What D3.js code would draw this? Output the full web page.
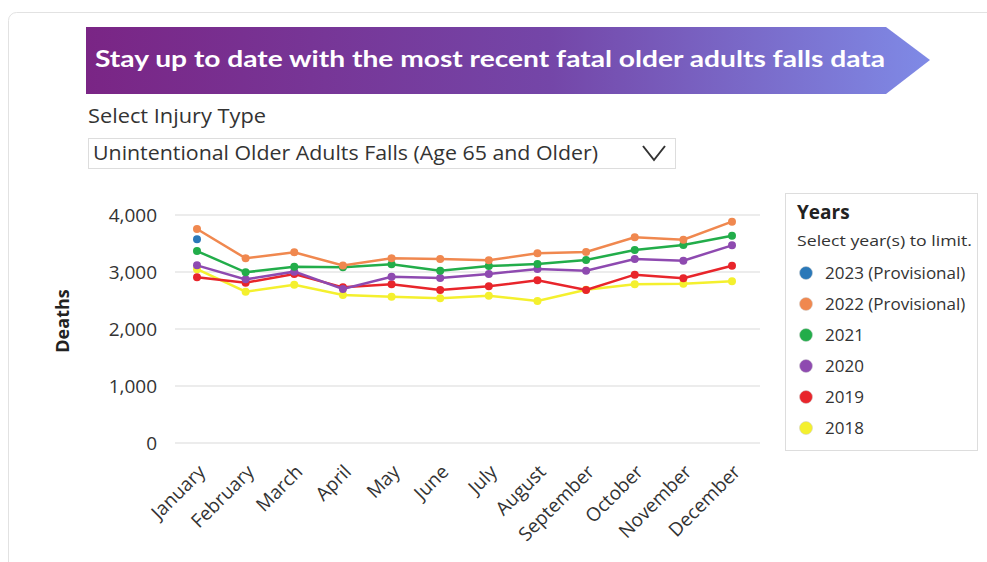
<!DOCTYPE html>
<html>
<head>
<meta charset="utf-8">
<script src="https://cdn.jsdelivr.net/npm/d3@7"></script>
<style>
  body { margin: 0; background: #fff; }
  svg { display: block; }
</style>
</head>
<body>
<div id="chart"></div>
<script>
const months = ["January", "February", "March", "April", "May", "June", "July",
  "August", "September", "October", "November", "December"];
const yTicks = [0, 1000, 2000, 3000, 4000];

const years = ["2023 (Provisional)", "2022 (Provisional)", "2021", "2020", "2019", "2018"];
const yearColors = ["#2a78b8", "#f0884f", "#22ad4a", "#8e4ab0", "#e8252b", "#f4f02e"];

const deaths2023 = [3575];
const deaths2022 = [3755, 3240, 3345, 3115, 3240, 3228, 3205, 3328, 3350, 3608, 3567, 3883];
const deaths2021 = [3368, 2994, 3094, 3085, 3135, 3023, 3105, 3140, 3211, 3386, 3474, 3637];
const deaths2020 = [3117, 2871, 3006, 2702, 2918, 2895, 2965, 3053, 3023, 3228, 3199, 3468];
const deaths2019 = [2907, 2813, 2965, 2731, 2784, 2684, 2749, 2854, 2684, 2953, 2889, 3111];
const deaths2018 = [3050, 2655, 2778, 2596, 2567, 2538, 2585, 2491, 2690, 2784, 2795, 2836];

const series = [deaths2023, deaths2022, deaths2021, deaths2020, deaths2019, deaths2018];

const W = 987, H = 562;
const font = "'Open Sans', sans-serif";
const svg = d3.select("#chart").append("svg").attr("width", W).attr("height", H);

// card
svg.append("rect")
  .attr("x", 8.5).attr("y", 12.5).attr("width", 1000).attr("height", 600)
  .attr("rx", 8).attr("fill", "#fff").attr("stroke", "#e2e2e2");

// banner
const defs = svg.append("defs");
const grad = defs.append("linearGradient").attr("id", "bannerGrad")
  .attr("x1", "0%").attr("y1", "0%").attr("x2", "100%").attr("y2", "0%");
grad.append("stop").attr("offset", "0%").attr("stop-color", "#7a2585");
grad.append("stop").attr("offset", "55%").attr("stop-color", "#7446a8");
grad.append("stop").attr("offset", "100%").attr("stop-color", "#7f8ae6");

svg.append("path")
  .attr("d", "M86,27 L886,27 L930,60 L886,94 L86,94 Z")
  .attr("fill", "url(#bannerGrad)");
svg.append("text")
  .attr("x", 95).attr("y", 67)
  .attr("font-family", "Lato, sans-serif").attr("font-weight", 700)
  .attr("font-size", 22).attr("fill", "#fff")
  .attr("textLength", 790).attr("lengthAdjust", "spacingAndGlyphs")
  .text("Stay up to date with the most recent fatal older adults falls data");

// selector
svg.append("text")
  .attr("x", 88).attr("y", 123)
  .attr("font-family", font).attr("font-size", 19.5).attr("fill", "#333")
  .attr("textLength", 178).attr("lengthAdjust", "spacingAndGlyphs")
  .text("Select Injury Type");
svg.append("rect")
  .attr("x", 88.5).attr("y", 138.5).attr("width", 587).attr("height", 30)
  .attr("fill", "#fff").attr("stroke", "#ddd");
svg.append("text")
  .attr("x", 93).attr("y", 160)
  .attr("font-family", font).attr("font-size", 19.5).attr("fill", "#333")
  .attr("textLength", 505).attr("lengthAdjust", "spacingAndGlyphs")
  .text("Unintentional Older Adults Falls (Age 65 and Older)");
svg.append("path")
  .attr("d", "M643,146 L654,160 L665,146")
  .attr("fill", "none").attr("stroke", "#333").attr("stroke-width", 2);

// chart
const x = d3.scalePoint().domain(months).range([197, 732]);
const y = d3.scaleLinear().domain([0, 4000]).range([443, 215]);

const grid = svg.append("g");
grid.selectAll("line").data(yTicks).join("line")
  .attr("x1", 175).attr("x2", 760)
  .attr("y1", d => y(d)).attr("y2", d => y(d))
  .attr("stroke", "#e6e6e6").attr("stroke-width", 1.5);

const yAxis = svg.append("g")
  .attr("transform", "translate(163,0)")
  .call(d3.axisLeft(y).tickValues(yTicks).tickFormat(d3.format(",")).tickSize(0).tickPadding(6));
yAxis.select(".domain").remove();
yAxis.selectAll("text")
  .attr("font-family", font).attr("font-size", 19).attr("fill", "#333");

const xAxis = svg.append("g")
  .attr("transform", "translate(0,443)")
  .call(d3.axisBottom(x).tickSize(0).tickPadding(0));
xAxis.select(".domain").remove();
xAxis.selectAll("text")
  .attr("font-family", font).attr("font-size", 19).attr("fill", "#333")
  .attr("text-anchor", "end")
  .attr("dy", 0)
  .attr("transform", "translate(9,30) rotate(-45)");

svg.append("text")
  .attr("transform", "translate(69,321) rotate(-90)")
  .attr("text-anchor", "middle")
  .attr("font-family", font).attr("font-weight", 700)
  .attr("font-size", 18).attr("fill", "#222")
  .text("Deaths");

const line = d3.line().x((d, i) => x(months[i])).y(d => y(d));

// draw oldest first so newer years sit on top
for (let s = series.length - 1; s >= 0; s--) {
  const vals = series[s];
  const g = svg.append("g");
  if (vals.length > 1) {
    g.append("path").datum(vals)
      .attr("d", line).attr("fill", "none")
      .attr("stroke", yearColors[s]).attr("stroke-width", 2.5);
  }
  g.selectAll("circle").data(vals).join("circle")
    .attr("cx", (d, i) => x(months[i])).attr("cy", d => y(d))
    .attr("r", 4).attr("fill", yearColors[s]);
}

// legend
const lg = svg.append("g");
lg.append("rect")
  .attr("x", 785.5).attr("y", 193.5).attr("width", 192).attr("height", 257)
  .attr("fill", "#fff").attr("stroke", "#ddd");
lg.append("text")
  .attr("x", 797).attr("y", 219)
  .attr("font-family", font).attr("font-weight", 700)
  .attr("font-size", 19).attr("fill", "#222").text("Years");
lg.append("text")
  .attr("x", 797).attr("y", 246)
  .attr("font-family", font).attr("font-size", 15)
  .attr("textLength", 175).attr("lengthAdjust", "spacingAndGlyphs")
  .attr("fill", "#333").text("Select year(s) to limit.");
const item = lg.selectAll("g.item").data(years).join("g")
  .attr("class", "item")
  .attr("transform", (d, i) => `translate(806,${273 + i * 31})`);
item.append("circle").attr("r", 6.5)
  .attr("fill", (d, i) => yearColors[i]).attr("stroke", "#ccc").attr("stroke-width", 0.5);
item.append("text")
  .attr("x", 19).attr("y", 5.5)
  .attr("font-family", font).attr("font-size", 17)
  .attr("fill", "#333").text(d => d);
</script>
</body>
</html>
